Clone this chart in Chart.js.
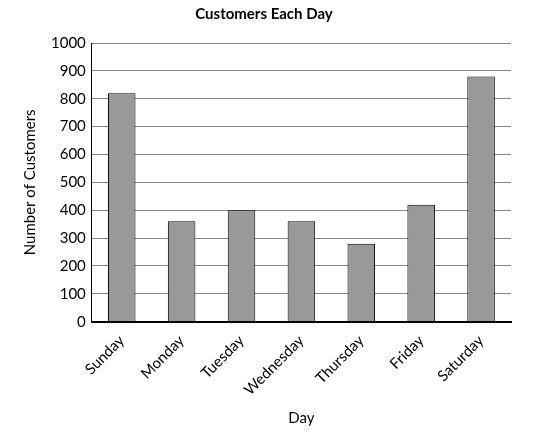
<!DOCTYPE html>
<html><head><meta charset="utf-8">
<script src="https://cdn.jsdelivr.net/npm/chart.js@4"></script>
<style>html,body{margin:0;padding:0;background:#fff}#w{width:545px;height:443px}</style>
</head><body><div id="w"><canvas id="c"></canvas></div>
<script>
const categories=["Sunday","Monday","Tuesday","Wednesday","Thursday","Friday","Saturday"];
const customers=[820,360,400,360,280,420,880];
const yTicks=[0,100,200,300,400,500,600,700,800,900,1000];
Chart.defaults.font.family="Lato, 'DejaVu Sans', sans-serif";
Chart.defaults.color="#000";
new Chart(document.getElementById('c'),{
 type:'bar',
 data:{labels:categories,datasets:[{data:customers,backgroundColor:'#999999',borderColor:'#000',borderWidth:1,barPercentage:0.46,categoryPercentage:1}]},
 options:{responsive:true,maintainAspectRatio:false,animation:false,
  layout:{padding:{left:17,right:34,top:2,bottom:12}},
  plugins:{legend:{display:false},tooltip:{enabled:false},
   title:{display:true,text:'Customers Each Day',font:{size:15,weight:'bold'},padding:{top:3,bottom:20}}},
  scales:{
   x:{grid:{display:false},border:{color:'#000',width:2},
      ticks:{maxRotation:45,minRotation:45,font:{size:15},padding:2},
      title:{display:true,text:'Day',font:{size:15},padding:{top:8}}},
   y:{min:0,max:1000,afterBuildTicks:a=>{a.ticks=yTicks.map(v=>({value:v}))},
      grid:{color:'#888',drawTicks:false},border:{color:'#000',width:1},
      ticks:{font:{size:15},padding:6,callback:v=>String(v)},
      title:{display:true,text:'Number of Customers',font:{size:15},padding:{bottom:6}}}
  }}
});
</script></body></html>
